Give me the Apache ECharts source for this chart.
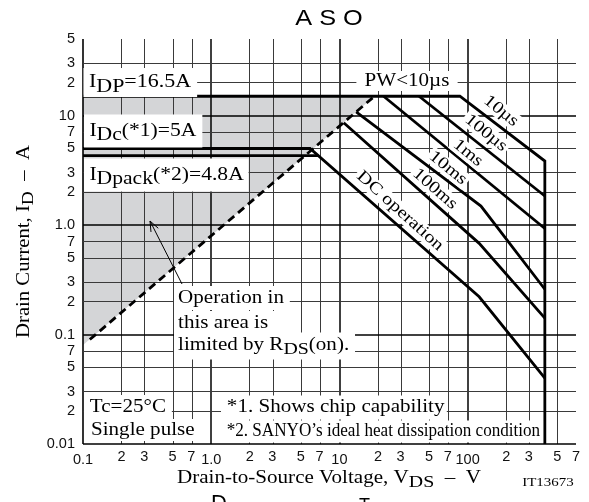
<!DOCTYPE html>
<html><head><meta charset="utf-8">
<script src="https://cdn.jsdelivr.net/npm/echarts@6/dist/echarts.min.js"></script>
<style>html,body{margin:0;padding:0;background:#fff}#c{width:589px;height:502px}</style>
</head><body><div id="c"></div>
<script>
const xTickValues = [0.1,0.2,0.3,0.5,0.7,1,2,3,5,7,10,20,30,50,70,100,200,300,500,700];
const xTickLabels = ['0.1','2','3','5','7','1.0','2','3','5','7','10','2','3','5','7','100','2','3','5','7'];
const yTickValues = [0.01,0.02,0.03,0.05,0.07,0.1,0.2,0.3,0.5,0.7,1,2,3,5,7,10,20,30,50];
const yTickLabels = ['0.01','2','3','5','7','0.1','2','3','5','7','1.0','2','3','5','7','10','2','3','5'];
const xRange = [0.1, 700];
const yRange = [0.01, 50];
const majorX = [1, 10, 100];
const majorY = [0.1, 1, 10];

// safe-operating-area boundaries (V_DS in V, I_D in A)
const pw10usV  = [0.1, 87, 400, 400];
const pw10usI  = [15, 15, 3.84, 0.01];
const pw100usV = [41.8, 400];
const pw100usI = [15, 1.84];
const pw1msV   = [22.1, 400];
const pw1msI   = [15, 0.93];
const pw10msV  = [13.5, 127, 400];
const pw10msI  = [10.8, 1.49, 0.259];
const pw100msV = [10.8, 123, 400];
const pw100msI = [8.6, 0.68, 0.141];
const dcV      = [0.1, 5.9, 123, 400];
const dcI      = [5, 5, 0.221, 0.040];
const packV    = [0.1, 6.85];
const packI    = [4.3, 4.3];
const rdsV     = [0.113, 19];
const rdsI     = [0.09, 15.2];
const shadeV   = [0.1, 18.8, 0.1];
const shadeI   = [15, 15, 0.08];

// ---------- build ----------
const L = v => Math.log10(v);
const toPts = (xs, ys) => xs.map((x, i) => [L(x), L(ys[i])]);
const SERIF = "'Liberation Serif','Times New Roman',serif";
const SANS = "'Liberation Sans',Arial,sans-serif";

function tickFormatter(values, labels, majors) {
  return function (val) {
    for (let i = 0; i < values.length; i++) {
      if (Math.abs(L(values[i]) - val) < 1e-6) {
        return (majors.indexOf(values[i]) >= 0 || i === 0 ? '{M|' : '{m|') + labels[i] + '}';
      }
    }
    return '';
  };
}

const gridMarks = [];
xTickValues.forEach(v => {
  const edge = v === xRange[0] || v === xRange[1];
  const major = majorX.indexOf(v) >= 0;
  gridMarks.push({xAxis: L(v), lineStyle: {color: (edge || major) ? '#000' : '#3a3a3a', width: edge ? 1.6 : (major ? 1.5 : 1), type: 'solid'}});
});
yTickValues.forEach(v => {
  const edge = v === yRange[0] || v === yRange[1];
  const major = majorY.indexOf(v) >= 0;
  gridMarks.push({yAxis: L(v), lineStyle: {color: (edge || major) ? '#000' : '#3a3a3a', width: edge ? 1.6 : (major ? 1.5 : 1), type: 'solid'}});
});

function curve(name, xs, ys, extra) {
  return Object.assign({
    type: 'line', name: name, data: toPts(xs, ys), symbol: 'none', silent: true, z: 10,
    lineStyle: {color: '#000', width: 2.8, cap: 'butt', join: 'miter'}
  }, extra || {});
}

function label(o) {
  const sx = o.sx == null ? 1.17 : o.sx;
  const fs = o.fs || 18;
  const style = {
    text: o.text, fill: '#000', fontSize: fs, fontFamily: o.family || SERIF,
    align: o.align || 'left', verticalAlign: o.va || 'middle',
    textAlign: o.align || 'left', textVerticalAlign: o.va || 'middle',
    rich: {s: {fontSize: o.subFs || (fs - 1), fontFamily: o.family || SERIF, padding: [9, 0, 0, 0]}}
  };
  if (o.bg !== false) { style.backgroundColor = '#fff'; style.padding = o.pad || [2, 4, 2, 4]; }
  return {type: 'text', x: o.x, y: o.y, rotation: (o.rot || 0) * Math.PI / 180, scaleX: sx, z: o.z || 20, silent: true, style: style};
}

// arrow geometry (annotation)
const arrowTail = [182, 284], arrowTip = [150, 221];
const ang = Math.atan2(arrowTip[1] - arrowTail[1], arrowTip[0] - arrowTail[0]);
const hl = 11, ha = 0.38;
const wing1 = [arrowTip[0] - hl * Math.cos(ang - ha), arrowTip[1] - hl * Math.sin(ang - ha)];
const wing2 = [arrowTip[0] - hl * Math.cos(ang + ha), arrowTip[1] - hl * Math.sin(ang + ha)];

const graphics = [
  label({text: 'A S O', x: 329, y: 18.5, align: 'center', family: SANS, fs: 22, sx: 1.15, bg: false}),
  label({text: 'I{s|DP}=16.5A', x: 83.5, y: 82.5, sx: 1.22, subFs: 18, pad: [1, 5, 1, 4.5]}),
  label({text: 'I{s|Dc}(*1)=5A', x: 84, y: 131, sx: 1.2, subFs: 18, pad: [3, 5, 3, 4.5]}),
  label({text: 'I{s|Dpack}(*2)=4.8A', x: 84, y: 175, sx: 1.2, subFs: 18, pad: [3, 4, 3, 4.5]}),
  label({text: 'PW<10µs', x: 407, y: 81, align: 'center', pad: [1, 7, 1, 7]}),
  label({text: '10µs', x: 501, y: 111, align: 'center', rot: -39, fs: 17, sx: 1.18, pad: [0, 2, 0, 2]}),
  label({text: '100µs', x: 486, y: 133, align: 'center', rot: -39, fs: 17, sx: 1.18, pad: [0, 2, 0, 2]}),
  label({text: '1ms', x: 468, y: 153, align: 'center', rot: -39, fs: 17, sx: 1.18, pad: [0, 2, 0, 2]}),
  label({text: '10ms', x: 448, y: 168, align: 'center', rot: -39, fs: 17, sx: 1.18, pad: [0, 2, 0, 2]}),
  label({text: '100ms', x: 435, y: 189, align: 'center', rot: -41, fs: 17, sx: 1.18, pad: [0, 2, 0, 2]}),
  label({text: 'DC operation', x: 400, y: 211, align: 'center', rot: -42, fs: 17, sx: 1.2, pad: [0, 2, 0, 2]}),
  label({text: 'Operation in', x: 174, y: 298, pad: [3, 5, 3, 3.5]}),
  label({text: 'this area is', x: 174, y: 323, pad: [3, 5, 3, 3.5]}),
  label({text: 'limited by R{s|DS}(on).', x: 174, y: 346, pad: [0, 5, 1, 3.5]}),
  label({text: 'Tc=25°C', x: 84, y: 407, pad: [3, 5, 3, 5]}),
  label({text: 'Single pulse', x: 84, y: 430, pad: [2, 5, 2, 6]}),
  label({text: '*1. Shows chip capability', x: 221, y: 407.5, pad: [3, 2, 3, 5]}),
  label({text: '*2. SANYO’s ideal heat dissipation condition', x: 221, y: 431.5, sx: 0.95, pad: [2, 3, 2, 6]}),
  label({text: 'Drain Current, I{s|D}  –  A', x: 24, y: 241.5, align: 'center', rot: 90, bg: false, sx: 1.15}),
  label({text: 'Drain-to-Source Voltage, V{s|DS}  –  V', x: 329, y: 478, align: 'center', bg: false, sx: 1.17}),
  label({text: 'IT13673', x: 548, y: 483, align: 'center', fs: 13, sx: 1.15, bg: false}),
  label({text: 'D', x: 211, y: 493, va: 'top', family: SANS, fs: 22, sx: 1, bg: false}),
  label({text: 'T', x: 359, y: 497, va: 'top', family: SANS, fs: 18, sx: 1, bg: false}),
  {type: 'line', z: 21, silent: true, shape: {x1: arrowTail[0], y1: arrowTail[1], x2: arrowTip[0], y2: arrowTip[1]}, style: {stroke: '#000', lineWidth: 1}},
  {type: 'polyline', z: 21, silent: true, shape: {points: [wing1, arrowTip, wing2]}, style: {stroke: '#000', lineWidth: 1, fill: null}}
];

const option = {
  animation: false,
  backgroundColor: '#fff',
  grid: {left: 83, right: 13, top: 39, bottom: 58, show: false},
  xAxis: {
    type: 'value', min: L(xRange[0]), max: L(xRange[1]),
    splitLine: {show: false}, axisLine: {show: false}, axisTick: {show: false},
    axisLabel: {
      customValues: xTickValues.map(L), margin: 5,
      formatter: tickFormatter(xTickValues, xTickLabels, majorX),
      rich: {
        M: {fontSize: 14.5, fontFamily: SANS, color: '#111', padding: [3, 0, 0, 0]},
        m: {fontSize: 14.5, fontFamily: SANS, color: '#111'}
      }
    }
  },
  yAxis: {
    type: 'value', min: L(yRange[0]), max: L(yRange[1]),
    splitLine: {show: false}, axisLine: {show: false}, axisTick: {show: false},
    axisLabel: {
      customValues: yTickValues.map(L), margin: 8,
      formatter: tickFormatter(yTickValues, yTickLabels, majorY),
      rich: {
        M: {fontSize: 14.5, fontFamily: SANS, color: '#111'},
        m: {fontSize: 14.5, fontFamily: SANS, color: '#111'}
      }
    }
  },
  graphic: graphics,
  series: [
    {
      type: 'custom', silent: true, z: 1, clip: true,
      data: [[L(shadeV[0]), L(shadeI[0])]],
      renderItem: function (params, api) {
        return {type: 'polygon', shape: {points: shadeV.map((v, i) => api.coord([L(v), L(shadeI[i])]))}, style: {fill: '#d4d5d7'}};
      }
    },
    {
      type: 'line', data: [[L(xRange[0]), L(yRange[0])]], symbol: 'none', silent: true, z: 3, clip: false,
      lineStyle: {opacity: 0},
      markLine: {silent: true, symbol: ['none', 'none'], label: {show: false}, animation: false, z: 3, data: gridMarks}
    },
    curve('PW<10µs / 10µs', pw10usV, pw10usI),
    curve('100µs', pw100usV, pw100usI),
    curve('1ms', pw1msV, pw1msI),
    curve('10ms', pw10msV, pw10msI),
    curve('100ms', pw100msV, pw100msI),
    curve('DC operation', dcV, dcI),
    curve('IDpack', packV, packI),
    curve('RDS(on) limit', rdsV, rdsI, {lineStyle: {color: '#000', width: 2.8, type: [8, 5]}})
  ]
};
const chart = echarts.init(document.getElementById('c'));
chart.setOption(option);
</script>
</body></html>
